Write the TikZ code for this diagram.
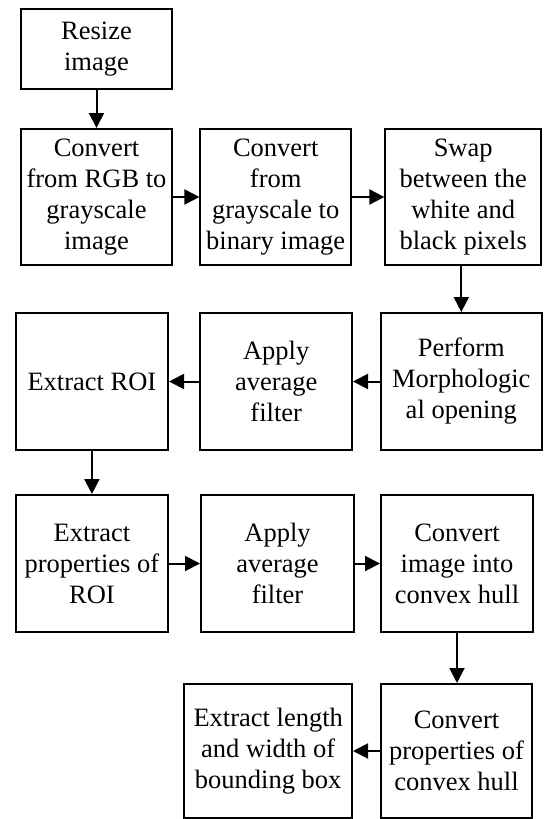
\documentclass[tikz,border=0pt]{standalone}
\usepackage{fontspec}
\setmainfont{Liberation Serif}
\usetikzlibrary{arrows.meta}
\begin{document}
\begin{tikzpicture}[x=1pt,y=1pt,
  box/.style={draw=black, line width=2pt, fill=white, inner sep=0pt, align=center,
    font=\fontsize{26.5}{31}\selectfont},
  conn/.style={line width=2pt, -{Triangle[length=15pt,width=15pt]}}]
\useasboundingbox (0,0) rectangle (546,-819);
\node[box, minimum width=151.6, minimum height=80] (rs) at (96.5,-49) {Resize\\image};
\node[box, minimum width=151.6, minimum height=136] (c1) at (96.5,-197) {Convert\\from RGB to\\grayscale\\image};
\node[box, minimum width=150.6, minimum height=136] (c2) at (275.7,-197) {Convert\\from\\grayscale to\\binary image};
\node[box, minimum width=155.7, minimum height=136] (sw) at (463.2,-197) {Swap\\between the\\white and\\black pixels};
\node[box, minimum width=152.3, minimum height=137] (roi) at (91.9,-381.5) {Extract ROI};
\node[box, minimum width=151.6, minimum height=137] (ap1) at (276.2,-381.5) {Apply\\average\\filter};
\node[box, minimum width=160.5, minimum height=137] (pm) at (461.3,-381.5) {Perform\\Morphologic\\al opening};
\node[box, minimum width=152.3, minimum height=137] (pr) at (91.9,-563.5) {Extract\\properties of\\ROI};
\node[box, minimum width=153, minimum height=137] (ap2) at (277.5,-563.5) {Apply\\average\\filter};
\node[box, minimum width=152, minimum height=137] (ci) at (457,-563.5) {Convert\\image into\\convex hull};
\node[box, minimum width=151, minimum height=134] (cp) at (456.5,-751) {Convert\\properties of\\convex hull};
\node[box, minimum width=167.6, minimum height=134] (el) at (268.2,-751) {Extract length\\and width of\\bounding box};
\draw[conn] (rs.south) -- (rs.south |- c1.north);
\draw[conn] (c1.east) -- (c2.west);
\draw[conn] (c2.east) -- (sw.west);
\draw[conn] (pm.north |- sw.south) -- (pm.north);
\draw[conn] (pm.west) -- (ap1.east);
\draw[conn] (ap1.west) -- (roi.east);
\draw[conn] (roi.south) -- (pr.north);
\draw[conn] (pr.east) -- (ap2.west);
\draw[conn] (ap2.east) -- (ci.west);
\draw[conn] (ci.south) -- (ci.south |- cp.north);
\draw[conn] (cp.west) -- (el.east);
\end{tikzpicture}
\end{document}
